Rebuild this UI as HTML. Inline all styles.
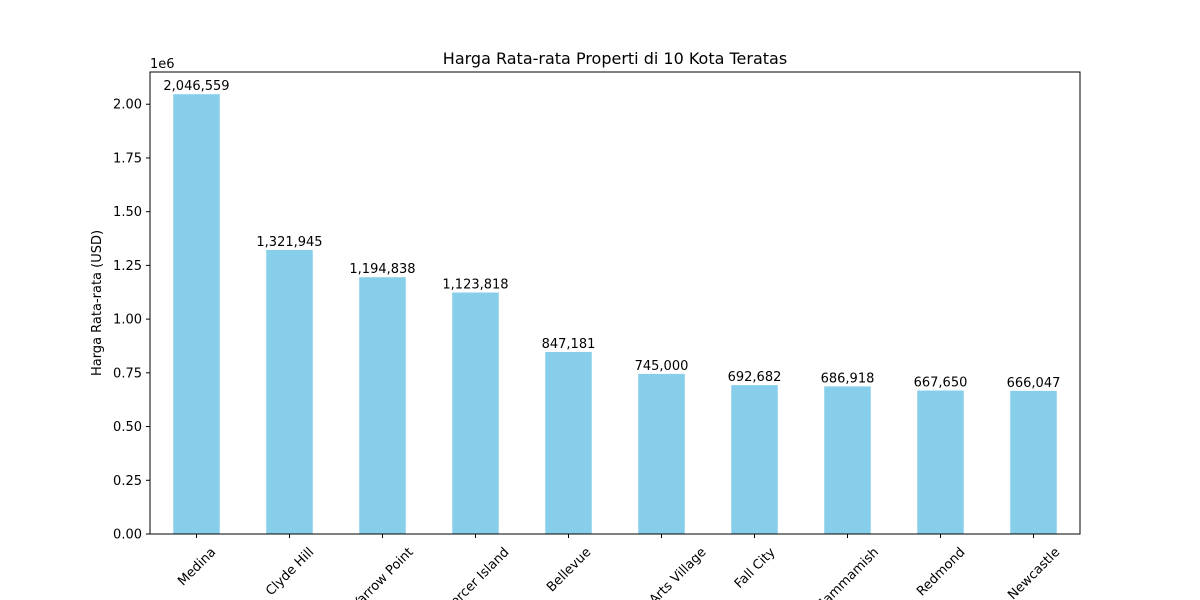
<!DOCTYPE html>
<html><head><meta charset="utf-8"><style>
html,body{margin:0;background:#fff;width:1200px;height:600px;overflow:hidden}
svg{display:block;overflow:hidden;font-family:"DejaVu Sans","Liberation Sans",sans-serif}
</style></head><body>
<svg id="chart" width="1200" height="600">
<rect width="1200" height="600" fill="#fff"/>
<g id="marks"></g>
<text x="615" y="64" font-size="16" text-anchor="middle">Harga Rata-rata Properti di 10 Kota Teratas</text>
<text x="150" y="68" font-size="13">1e6</text>
<text transform="translate(101,303) rotate(-90)" font-size="13" text-anchor="middle">Harga Rata-rata (USD)</text>
<rect x="150" y="72" width="930" height="462" fill="none" stroke="#000" stroke-width="1"/>
</svg>
<script>
const categories=["Medina","Clyde Hill","Yarrow Point","Mercer Island","Bellevue","Beaux Arts Village","Fall City","Sammamish","Redmond","Newcastle"];
const values=[2046559,1321945,1194838,1123818,847181,745000,692682,686918,667650,666047];
const yTicks=[0,0.25,0.5,0.75,1.0,1.25,1.5,1.75,2.0];
const yTickLabels=["0.00","0.25","0.50","0.75","1.00","1.25","1.50","1.75","2.00"];
const NS="http://www.w3.org/2000/svg";
const X0=150,X1=1080,Y0=534,Y1=72,YMAX=2.15e6;
const step=(X1-X0)/categories.length;
const xs=i=>X0+(i+0.5)*step;
const ys=v=>Y0-(v/YMAX)*(Y0-Y1);
const g=document.getElementById('marks');
function mk(t,a){const e=document.createElementNS(NS,t);for(const k in a)e.setAttribute(k,a[k]);return e;}
values.forEach((v,i)=>{
  const b=mk('rect',{x:xs(i)-step*0.25,y:ys(v),width:step*0.5,height:Y0-ys(v),fill:'#87ceeb'});
  
  
  g.appendChild(b);
  const t=mk('text',{x:xs(i),y:ys(v)-4,'font-size':13,'text-anchor':'middle'});
  t.textContent=v.toLocaleString('en-US');
  
  
  g.appendChild(t);
  const tk=mk('line',{x1:xs(i),x2:xs(i),y1:Y0,y2:Y0+4,stroke:'#000'});
  
  
  g.appendChild(tk);
  const lb=mk('text',{'font-size':13,'text-anchor':'middle'});
  lb.textContent=categories[i];
  
  
  g.appendChild(lb);
  const L=lb.getComputedTextLength();
  const cy=545+(L+13)*0.7071/2;
  lb.setAttribute('transform','translate('+xs(i)+','+cy+') rotate(-45) translate(0,4.5)');
});
yTicks.forEach((v,i)=>{
  const y=ys(v*1e6);
  const tk=mk('line',{x1:X0-4,x2:X0,y1:y,y2:y,stroke:'#000'});
  
  
  g.appendChild(tk);
  const t=mk('text',{x:X0-8,y:y+4.5,'font-size':13,'text-anchor':'end'});
  t.textContent=yTickLabels[i];
  
  
  g.appendChild(t);
});
</script>
</body></html>
